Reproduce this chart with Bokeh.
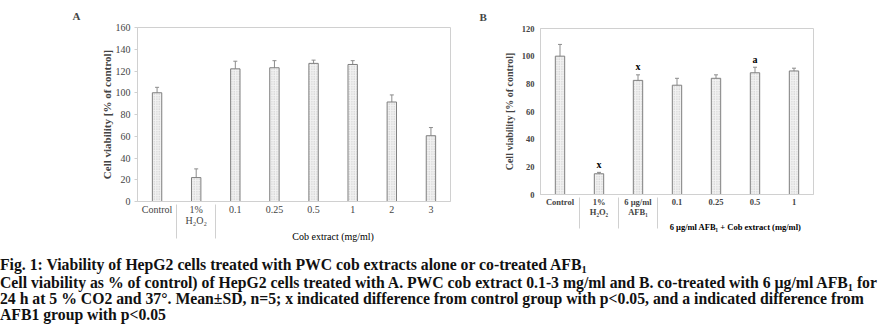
from bokeh.plotting import figure
from bokeh.models import FactorRange, Whisker, ColumnDataSource, FixedTicker, Div, TeeHead
from bokeh.layouts import column, row
from bokeh.embed import file_html
from bokeh.resources import INLINE
from bokeh.core.properties import value

# ---------------- data ----------------
groupsA = [" ", "  ", "Cob extract (mg/ml)", "Cob extract (mg/ml)", "Cob extract (mg/ml)",
           "Cob extract (mg/ml)", "Cob extract (mg/ml)", "Cob extract (mg/ml)"]
catsA = ["Control", "1%\nH₂O₂", "0.1", "0.25", "0.5", "1", "2", "3"]
valsA = [100, 22, 122, 123, 127, 126, 91.5, 60.5]
errA = [5, 8, 7, 6.5, 3, 3.5, 6.5, 7.5]

grpB = "6 µg/ml AFB₁ + Cob extract (mg/ml)"
groupsB = [" ", "  ", "   ", grpB, grpB, grpB, grpB]
catsB = ["Control", "1%\nH₂O₂", "6 µg/ml\nAFB₁", "0.1", "0.25", "0.5", "1"]
valsB = [100, 15, 82.5, 79, 84, 88, 89.3]
errB = [8.5, 1, 4, 5, 2.5, 4, 2]
sigB = ["", "x", "x", "", "", "a", ""]

yticksA = [0, 20, 40, 60, 80, 100, 120, 140, 160]
yticksB = [0, 20, 40, 60, 80, 100, 120]

SERIF = "'Liberation Serif', 'Times New Roman', serif"
GRID = "#d0d0d0"
BAR_LINE = "#7f7f7f"


def make_panel(groups, cats, vals, errs, yticks, width, height, borders, tick_size, title_size,
               bold_ticks, ytick_out, ylab_standoff, ytitle_standoff, panel_label, label_offset):
    factors = list(zip(groups, cats))
    src = ColumnDataSource(dict(x=factors, top=vals, upper=[v + e for v, e in zip(vals, errs)],
                                lower=[v - e for v, e in zip(vals, errs)]))
    xr = FactorRange(*factors, group_padding=0, factor_padding=0, range_padding=0)
    p = figure(x_range=xr, y_range=(yticks[0], yticks[-1]), width=width, height=height,
               output_backend="svg", toolbar_location=None, title=panel_label,
               min_border_left=borders[0], min_border_right=borders[1],
               min_border_top=borders[2], min_border_bottom=borders[3])
    p.title.align = "left"
    p.title.offset = label_offset
    p.title.text_font = SERIF
    p.title.text_font_size = "11px"
    p.title.text_font_style = "bold"
    p.title.standoff = 12
    p.vbar(x="x", top="top", width=0.24, source=src, fill_color="#f2f2f2",
           line_color=BAR_LINE, line_width=1,
           hatch_pattern="dot", hatch_color="#9a9a9a", hatch_scale=2.5, hatch_alpha=0.55)
    w = Whisker(base="x", upper="upper", lower="lower", source=src,
                line_color="#8c8c8c", line_width=1,
                upper_head=TeeHead(size=4, line_color="#8c8c8c"),
                lower_head=TeeHead(size=4, line_color="#8c8c8c"))
    p.add_layout(w)
    p.xgrid.visible = False
    p.ygrid.visible = False
    p.outline_line_color = GRID
    p.background_fill_color = "white"
    p.border_fill_color = "white"

    ya = p.yaxis[0]
    ya.ticker = FixedTicker(ticks=yticks)
    ya.axis_line_color = GRID
    ya.major_tick_line_color = GRID if ytick_out else None
    ya.major_tick_out = ytick_out
    ya.major_tick_in = 0
    ya.minor_tick_line_color = None
    ya.major_label_text_font = SERIF
    ya.major_label_text_font_size = tick_size
    ya.major_label_text_font_style = "bold" if bold_ticks else "normal"
    ya.major_label_standoff = ylab_standoff
    ya.axis_label = "Cell viability [% of control]"
    ya.axis_label_text_font = SERIF
    ya.axis_label_text_font_size = title_size
    ya.axis_label_text_font_style = "bold"
    ya.axis_label_standoff = ytitle_standoff

    xa = p.xaxis[0]
    xa.axis_line_color = GRID
    xa.major_tick_line_color = None
    xa.major_tick_out = 0
    xa.major_tick_in = 0
    xa.minor_tick_line_color = None
    xa.major_label_standoff = 2
    xa.major_label_text_font = SERIF
    xa.major_label_text_font_size = tick_size
    xa.major_label_text_line_height = 1.0
    xa.major_label_text_font_style = "bold" if bold_ticks else "normal"
    xa.major_label_orientation = "horizontal"
    xa.group_text_font = SERIF
    xa.group_text_font_size = tick_size
    xa.group_text_font_style = "bold" if bold_ticks else "normal"
    xa.group_text_color = "black"
    xa.separator_line_color = GRID
    xa.separator_line_width = 1
    return p, src


pA, srcA = make_panel(groupsA, catsA, valsA, errA, yticksA, 455, 257, (137, 5, 27, 56),
                      "10px", "11px", False, 3, 4, 0, "A", -65)
pB, srcB = make_panel(groupsB, catsB, valsB, errB, yticksB, 428, 257, (85, 70, 28, 63),
                      "8.5px", "10px", True, 0, 6, 4, "B", -61)

srcB.data["sig"] = sigB
pB.text(x="x", y="upper", text="sig", source=srcB, text_font=value(SERIF), text_font_size="10px",
        text_font_style="bold", text_align="center", text_baseline="middle", y_offset=-8)

caption_lines = [
    "Fig. 1: Viability of HepG2 cells treated with PWC cob extracts alone or co-treated AFB<sub>1</sub>",
    "Cell viability as % of control) of HepG2 cells treated with A. PWC cob extract 0.1-3 mg/ml and B. co-treated with 6 µg/ml AFB<sub>1</sub> for",
    "24 h at 5 % CO2 and 37°. Mean±SD, n=5; x indicated difference from control group with p&lt;0.05, and a indicated difference from",
    "AFB1 group with p&lt;0.05",
]
line_heights = [19, 17, 16, 15]
sub_style = '<sub style="font-size:10.5px;line-height:0;vertical-align:-3px;">'
inner = "".join('<div style="height:%dpx;line-height:%dpx;white-space:nowrap;">' % (h, h)
                + ln.replace("<sub>", sub_style) + "</div>"
                for ln, h in zip(caption_lines, line_heights))
html = ('<div style="font-family:\'Liberation Serif\',serif;font-weight:bold;font-size:16px;'
        'transform:scaleX(0.983);transform-origin:0 0;margin-top:-2px;color:#111;">'
        + inner + '</div>')
div = Div(text=html, width=883, height=76, styles={"margin": "0", "padding": "0"})

layout = column(row(column(pA, spacing=0), column(pB, spacing=0), spacing=0), div, spacing=0)
open("out.html", "w").write(file_html(layout, INLINE))
